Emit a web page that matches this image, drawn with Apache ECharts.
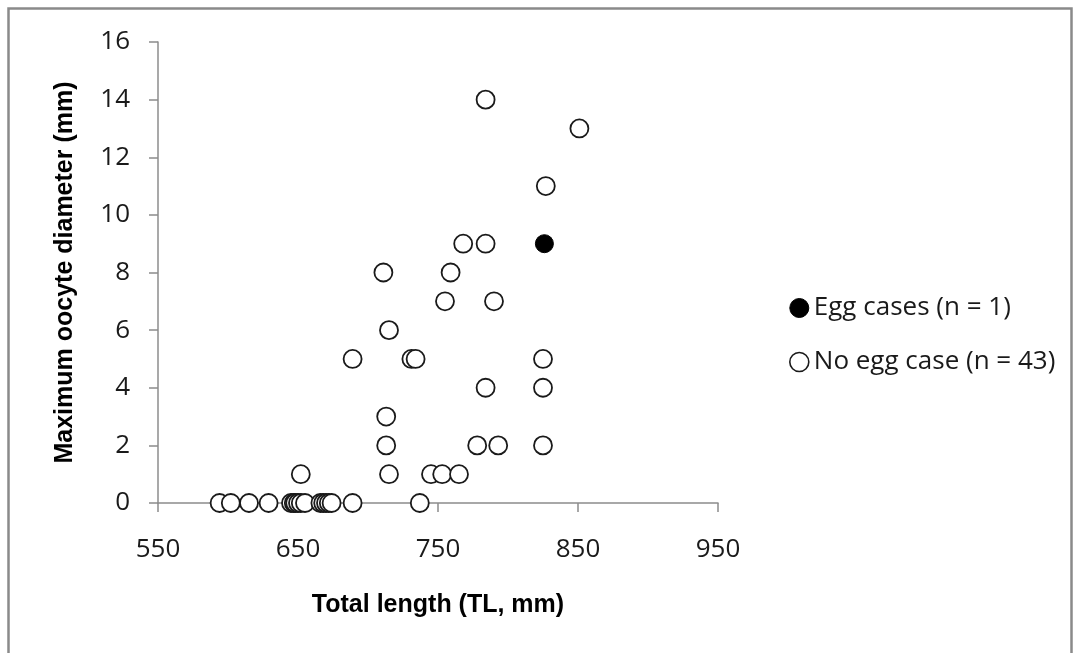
<!DOCTYPE html>
<html>
<head>
<meta charset="utf-8">
<title>Maximum oocyte diameter vs total length</title>
<script src="https://cdn.jsdelivr.net/npm/echarts@6/dist/echarts.min.js"></script>
<style>
  html, body { margin: 0; padding: 0; background: #fff; }
  #chart { width: 1080px; height: 653px; }
</style>
</head>
<body>
<div id="chart"></div>
<script>
// Axis ticks
const xTicks = [550, 650, 750, 850, 950];
const yTicks = [0, 2, 4, 6, 8, 10, 12, 14, 16];

// Series names shown in the legend
const seriesNames = ['Egg cases (n = 1)', 'No egg case (n = 43)'];

// Females carrying egg cases: total length (mm) and max oocyte diameter (mm)
const eggTL = [826];
const eggDiam = [9];

// Females without egg cases
const noEggTL = [
  594, 602, 615, 629, 645, 647, 648, 650, 652, 655, 666, 668, 670, 672, 674, 689, 737,
  652, 715, 745, 753, 765,
  713, 778, 793, 825,
  713,
  784, 825,
  689, 731, 734, 825,
  715,
  755, 790,
  711, 759,
  768, 784,
  827,
  851,
  784
];
const noEggDiam = [
  0, 0, 0, 0, 0, 0, 0, 0, 0, 0, 0, 0, 0, 0, 0, 0, 0,
  1, 1, 1, 1, 1,
  2, 2, 2, 2,
  3,
  4, 4,
  5, 5, 5, 5,
  6,
  7, 7,
  8, 8,
  9, 9,
  11,
  13,
  14
];

const pairs = (xs, ys) => xs.map((x, i) => [x, ys[i]]);

const axisGray = '#8c8c8c';
const tickFont = { fontFamily: 'Open Sans', fontSize: 26, color: '#1a1a1a' };
const titleFont = { fontFamily: 'Liberation Sans', fontSize: 25, fontWeight: 'bold', color: '#000' };

const chart = echarts.init(document.getElementById('chart'), null, { renderer: 'canvas' });

chart.setOption({
  animation: false,
  backgroundColor: '#fff',
  grid: { left: 158, right: 362, top: 42, bottom: 150, containLabel: false },
  xAxis: {
    type: 'value',
    min: xTicks[0],
    max: xTicks[xTicks.length - 1],
    interval: xTicks[1] - xTicks[0],
    name: 'Total length (TL, mm)',
    nameLocation: 'middle',
    nameGap: 90,
    nameTextStyle: titleFont,
    axisLine: { show: true, onZero: true, lineStyle: { color: axisGray, width: 1.5 } },
    axisTick: { show: true, inside: false, length: 9, lineStyle: { color: axisGray, width: 1.5 } },
    axisLabel: Object.assign({ margin: 34, formatter: v => String(v) }, tickFont),
    splitLine: { show: false }
  },
  yAxis: {
    type: 'value',
    min: yTicks[0],
    max: yTicks[yTicks.length - 1],
    interval: yTicks[1] - yTicks[0],
    name: 'Maximum oocyte diameter (mm)',
    nameLocation: 'middle',
    nameGap: 80,
    nameTextStyle: titleFont,
    axisLine: { show: true, lineStyle: { color: axisGray, width: 1.5 } },
    axisTick: { show: true, inside: false, length: 9, lineStyle: { color: axisGray, width: 1.5 } },
    axisLabel: Object.assign({ margin: 28 }, tickFont),
    splitLine: { show: false }
  },
  legend: {
    orient: 'vertical',
    left: 789,
    top: 293,
    padding: 0,
    itemGap: 24,
    itemWidth: 19,
    itemHeight: 19,
    textStyle: { fontFamily: 'Open Sans', fontSize: 26, color: '#1a1a1a', lineHeight: 30 },
    data: [
      { name: seriesNames[0], icon: 'circle', itemStyle: { color: '#000', borderColor: '#000', borderWidth: 1 } },
      { name: seriesNames[1], icon: 'circle', itemStyle: { color: '#fff', borderColor: '#1a1a1a', borderWidth: 1.6 } }
    ]
  },
  series: [
    {
      name: seriesNames[0],
      type: 'scatter',
      symbol: 'circle',
      symbolSize: 18,
      data: pairs(eggTL, eggDiam),
      itemStyle: { color: '#000', borderColor: '#000', borderWidth: 1, opacity: 1 },
      z: 3
    },
    {
      name: seriesNames[1],
      type: 'scatter',
      symbol: 'circle',
      symbolSize: 18,
      data: pairs(noEggTL, noEggDiam),
      itemStyle: { color: '#fff', borderColor: '#1a1a1a', borderWidth: 1.8, opacity: 1 },
      z: 2
    }
  ],
  graphic: [
    {
      type: 'rect',
      silent: true,
      shape: { x: 8.5, y: 8.5, width: 1063, height: 700 },
      style: { fill: 'none', stroke: '#8a8a8a', lineWidth: 2.5 }
    }
  ]
});
</script>
</body>
</html>
